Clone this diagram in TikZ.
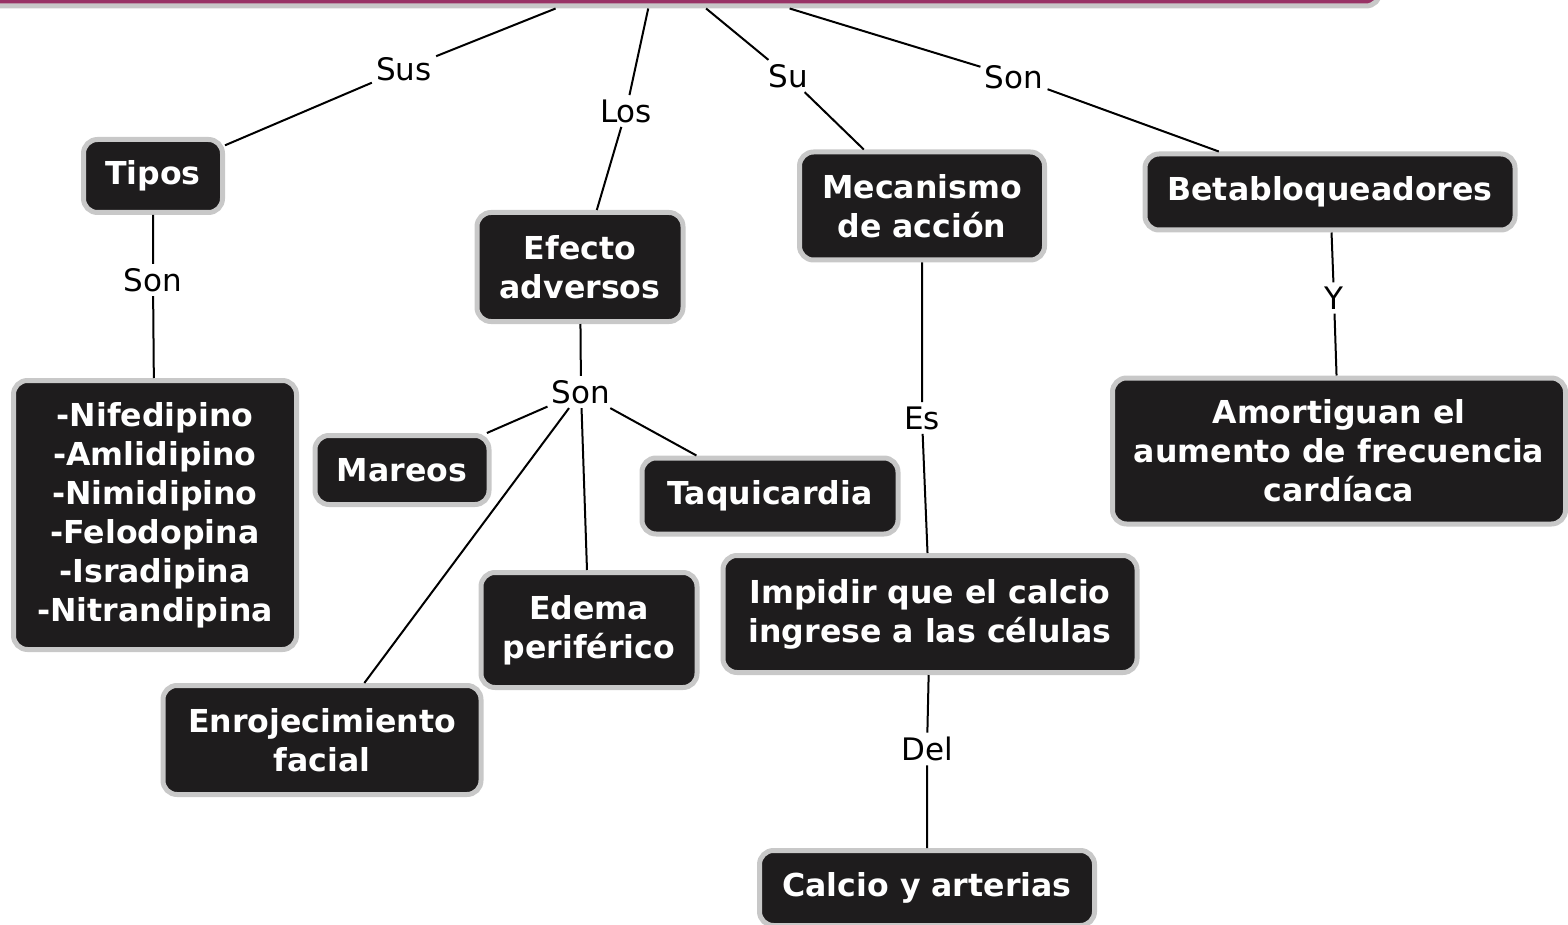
\documentclass[tikz,border=0pt]{standalone}
\usepackage{fontspec}
\setmainfont{DejaVu Sans}
\definecolor{cmapfill}{HTML}{1E1C1D}
\definecolor{cmapedge}{HTML}{C8C8C8}
\definecolor{temafill}{HTML}{993366}

\begin{document}
\begin{tikzpicture}[x=0.5pt,y=-0.5pt,
  concepto/.style={rectangle, rounded corners=7pt, fill=cmapfill, draw=cmapedge,
    line width=2.5pt, text=white, align=center, inner sep=0pt,
    font=\fontsize{15.8}{19.5}\selectfont\bfseries},
  enlace/.style={font=\fontsize{15.5}{19}\selectfont, inner sep=2pt},
  linea/.style={line width=1pt}]
  \useasboundingbox (0,0) rectangle (1568,925);

  % Conceptos
  \node[concepto, fill=temafill, minimum width=723pt, minimum height=38pt] (tema) at (657,-32) {};
  \node[concepto, minimum width=69.5pt, minimum height=36.5pt] (tipos) at (153,176) {Tipos};
  \node[concepto, minimum width=141.5pt, minimum height=134.5pt] (farmacos) at (155,515)
    {-Nifedipino\\-Amlidipino\\-Nimidipino\\-Felodopina\\-Isradipina\\-Nitrandipina};
  \node[concepto, minimum width=103pt, minimum height=54.5pt] (efecto) at (580,267) {Efecto\\adversos};
  \node[concepto, minimum width=122.5pt, minimum height=54pt] (mecanismo) at (922,206) {Mecanismo\\de acción};
  \node[concepto, minimum width=185pt, minimum height=38pt] (beta) at (1330,192) {Betabloqueadores};
  \node[concepto, minimum width=226.5pt, minimum height=73pt] (amortiguan) at (1339,451)
    {Amortiguan el\\aumento de frecuencia\\cardíaca};
  \node[concepto, minimum width=87pt, minimum height=34.5pt] (mareos) at (402,470) {Mareos};
  \node[concepto, minimum width=128pt, minimum height=38pt] (taqui) at (770,496) {Taquicardia};
  \node[concepto, minimum width=108pt, minimum height=57.5pt] (edema) at (589,630) {Edema\\periférico};
  \node[concepto, minimum width=159pt, minimum height=54.5pt] (enrojec) at (322,740) {Enrojecimiento\\facial};
  \node[concepto, minimum width=207pt, minimum height=58.5pt] (impedir) at (930,614)
    {Impidir que el calcio\\ingrese a las células};
  \node[concepto, minimum width=167.5pt, minimum height=37.5pt] (calcio) at (927,888) {Calcio y arterias};

  % Enlaces
  \node[enlace] (lSus) at (404,69) {Sus};
  \node[enlace] (lLos) at (626,111) {Los};
  \node[enlace] (lSu) at (788,76) {Su};
  \node[enlace] (lSon) at (1014,77) {Son};
  \node[enlace] (lSonT) at (153,280) {Son};
  \node[enlace] (lSonE) at (581,392) {Son};
  \node[enlace] (lEs) at (922,418) {Es};
  \node[enlace] (lY) at (1334,298) {Y};
  \node[enlace] (lDel) at (927,749) {Del};

  % Lineas
  \draw[linea] (tema) -- (lSus) -- (tipos);
  \draw[linea] (tema) -- (lLos) -- (efecto);
  \draw[linea] (tema) -- (lSu) -- (mecanismo);
  \draw[linea] (tema) -- (lSon) -- (beta);
  \draw[linea] (tipos) -- (lSonT) -- (farmacos);
  \draw[linea] (efecto) -- (lSonE);
  \foreach \destino in {mareos, enrojec, edema, taqui}
    \draw[linea] (lSonE) -- (\destino);
  \draw[linea] (mecanismo) -- (lEs) -- (impedir);
  \draw[linea] (beta) -- (lY) -- (amortiguan);
  \draw[linea] (impedir) -- (lDel) -- (calcio);
\end{tikzpicture}
\end{document}
